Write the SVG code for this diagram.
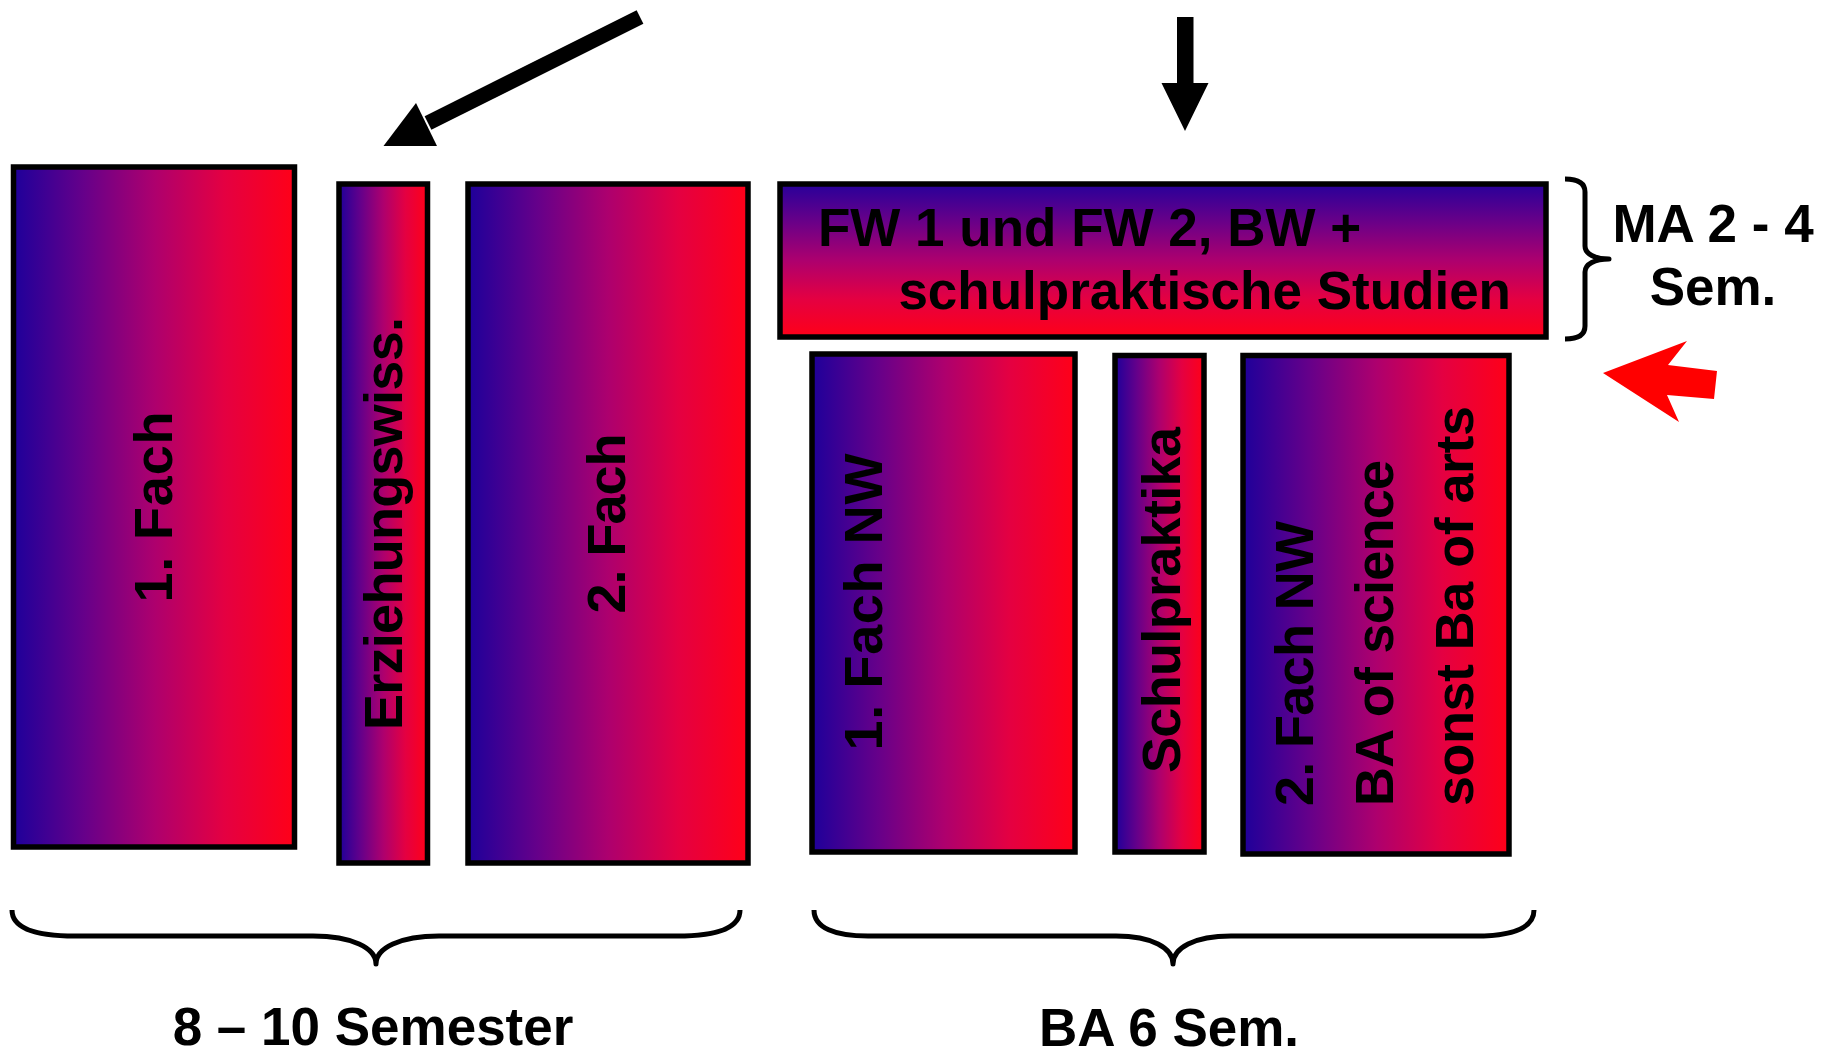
<svg xmlns="http://www.w3.org/2000/svg" width="1822" height="1058" viewBox="0 0 1822 1058">
  <defs>
    <!-- blue-to-red fill used by all study blocks -->
    <linearGradient id="gh" x1="0" y1="0" x2="1" y2="0">
      <stop offset="0" stop-color="#1e009a"/>
      <stop offset="0.25" stop-color="#66008a"/>
      <stop offset="0.5" stop-color="#ad006e"/>
      <stop offset="0.75" stop-color="#e40042"/>
      <stop offset="1" stop-color="#ff0018"/>
    </linearGradient>
    <linearGradient id="gv" x1="0" y1="0" x2="0" y2="1">
      <stop offset="0" stop-color="#28009a"/>
      <stop offset="0.25" stop-color="#6a0088"/>
      <stop offset="0.5" stop-color="#ad006e"/>
      <stop offset="0.75" stop-color="#e40042"/>
      <stop offset="1" stop-color="#ff0018"/>
    </linearGradient>
    <style>
      .blk { fill: url(#gh); stroke: #000; stroke-width: 5.5; }
      .blkv { fill: url(#gv); stroke: #000; stroke-width: 5.5; }
      .t { font-family: "Liberation Sans", Arial, sans-serif; font-weight: bold; fill: #000; }
      .v { font-size: 54px; }
      .h { font-size: 53px; }
      .brace { fill: none; stroke: #000; stroke-width: 5; stroke-linejoin: round; }
    </style>
  </defs>

  <rect width="1822" height="1058" fill="#fff"/>

  <!-- Lehramt (state exam) column -->
  <g id="fach1">
    <rect class="blk" x="13.5" y="167" width="281" height="680"/>
    <text class="t v" transform="translate(172,507) rotate(-90)" text-anchor="middle" textLength="191">1. Fach</text>
  </g>
  <g id="erziehungswiss">
    <rect class="blk" x="339" y="184" width="88.5" height="679"/>
    <text class="t v" transform="translate(401.5,523.5) rotate(-90)" text-anchor="middle" textLength="413">Erziehungswiss.</text>
  </g>
  <g id="fach2">
    <rect class="blk" x="468" y="184" width="280" height="679"/>
    <text class="t v" transform="translate(625,523.5) rotate(-90)" text-anchor="middle" textLength="180">2. Fach</text>
  </g>

  <!-- Master block -->
  <g id="master">
    <rect class="blkv" x="780" y="184" width="766" height="153"/>
    <text class="t h" x="818" y="245.5">FW 1 und FW 2, BW +</text>
    <text class="t h" x="1511" y="308.5" text-anchor="end">schulpraktische Studien</text>
  </g>

  <!-- Bachelor blocks -->
  <g id="fach1nw">
    <rect class="blk" x="812" y="354" width="263" height="498"/>
    <text class="t v" transform="translate(881.5,602) rotate(-90)" text-anchor="middle" textLength="297">1. Fach NW</text>
  </g>
  <g id="schulpraktika">
    <rect class="blk" x="1115" y="355.5" width="89" height="496.5"/>
    <text class="t v" transform="translate(1179.5,600) rotate(-90)" text-anchor="middle" textLength="346">Schulpraktika</text>
  </g>
  <g id="fach2nw">
    <rect class="blk" x="1243" y="355.5" width="266" height="498.5"/>
    <text class="t v" transform="translate(1313,806) rotate(-90)" textLength="285">2. Fach NW</text>
    <text class="t v" transform="translate(1393,806) rotate(-90)" textLength="346">BA of science</text>
    <text class="t v" transform="translate(1473,806) rotate(-90)" textLength="400">sonst Ba of arts</text>
  </g>

  <!-- Braces and duration labels -->
  <g id="labels">
    <path class="brace" d="M12,910 C12,928 35,936 75,936 L313,936 C352,936 376,948 376,964 C376,948 400,936 439,936 L677,936 C717,936 740,928 740,910"/>
    <text class="t h" x="373" y="1045" text-anchor="middle">8 – 10 Semester</text>
    <path class="brace" d="M814,910 C814,928 835,936 868,936 L1116,936 C1152,936 1173,948 1173,964 C1173,948 1194,936 1231,936 L1475,936 C1512,936 1534,928 1534,910"/>
    <text class="t h" x="1169" y="1046" text-anchor="middle">BA 6 Sem.</text>
    <path class="brace" stroke-width="4.5" d="M1565,179 C1578,179 1585,183 1585,192 L1585,246 C1585,254 1595,259 1609,259 C1595,259 1585,264 1585,272 L1585,326 C1585,335 1578,339 1565,339"/>
    <text class="t h" x="1713" y="241.5" text-anchor="middle">MA 2 - 4</text>
    <text class="t h" x="1713" y="305" text-anchor="middle">Sem.</text>
  </g>

  <!-- Pointer arrows -->
  <g id="connectors">
    <line x1="640" y1="17" x2="428" y2="123" stroke="#000" stroke-width="15"/>
    <polygon points="416,103 437,146 383.5,146" fill="#000"/>
    <polygon points="1177,17 1193.5,17 1193.5,83 1208.5,83 1185,131 1161.5,83 1177,83" fill="#000"/>
    <polygon points="1603,373 1687,341 1668,365 1717,371 1714,399 1667,395 1679,422" fill="#ff0000"/>
  </g>
</svg>
